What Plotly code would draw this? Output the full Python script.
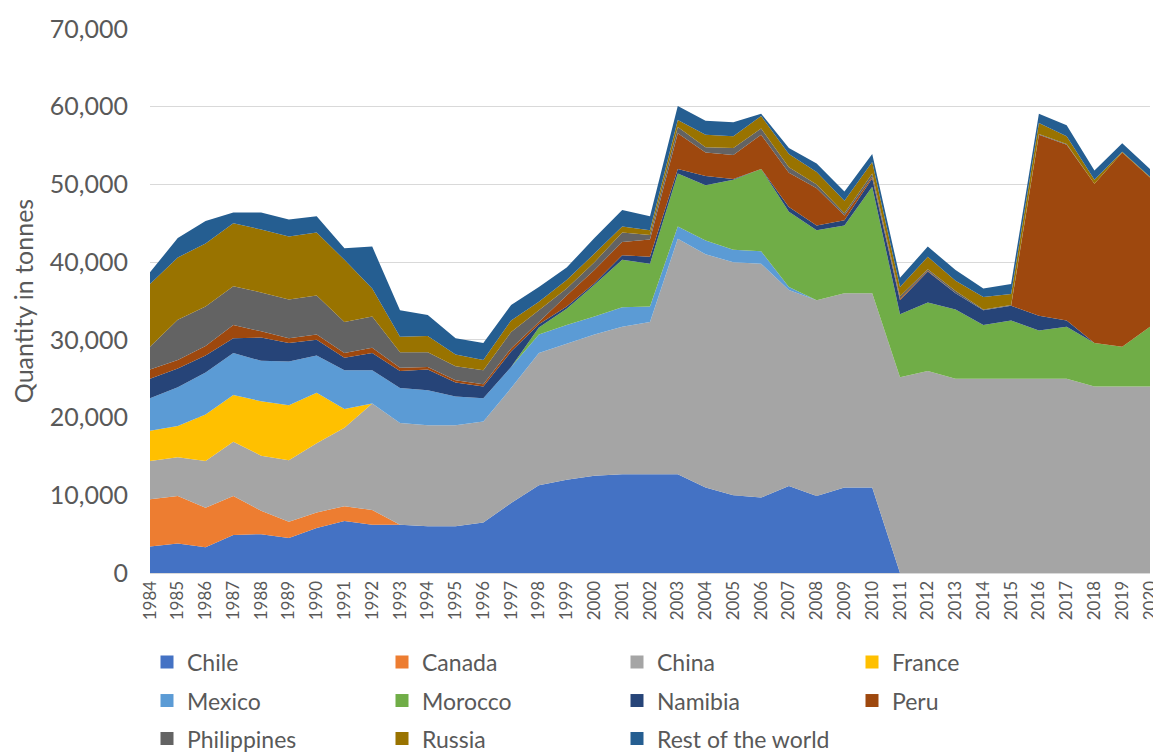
import plotly.graph_objects as go

years = list(range(1984, 2021))

chile = [3400, 3800, 3300, 4900, 5000, 4500, 5800, 6700, 6200, 6200, 6000, 6000, 6500,
         9000, 11300, 12000, 12500, 12700, 12700, 12700, 11000, 10000, 9700, 11200, 9900,
         11000, 11000, 0, 0, 0, 0, 0, 0, 0, 0, 0, 0]
canada = [6100, 6100, 5100, 5000, 3000, 2100, 2000, 1900, 1900] + [0] * 28
china = [4900, 5000, 6000, 7000, 7100, 7900, 8900, 10100, 13700, 13100, 13000, 13000, 13000,
         14800, 17000, 17500, 18200, 19000, 19600, 30300, 30000, 30000, 30100, 25200, 25200,
         25000, 25000, 25200, 26000, 25000, 25000, 25000, 25000, 25000, 24000, 24000, 24000]
france = [3900, 4000, 6000, 6000, 7000, 7100, 6500, 2400] + [0] * 29
mexico = [4200, 5000, 5400, 5400, 5200, 5600, 4800, 5000, 4300, 4500, 4500, 3700, 3000,
          2700, 2400, 2400, 2300, 2500, 2000, 1600, 1800, 1600, 1600, 400] + [0] * 13
morocco = [0] * 14 + [900, 2100, 4100, 6100, 5500, 6800, 7100, 9000, 10600, 9700, 9000,
                      8700, 13700, 8100, 8800, 8900, 6900, 7500, 6200, 6700, 5600, 5100, 7700]
namibia = [2500, 2400, 2200, 1900, 3000, 2400, 2000, 1600, 2200, 2200, 2700, 1800, 1500,
           2000, 400, 300, 200, 600, 900, 600, 1200, 100, 0, 600, 600, 700, 1100,
           1800, 4000, 2100, 1900, 1900, 1900, 800, 0, 0, 0]
peru = [1200, 1100, 1200, 1700, 800, 600, 700, 600, 700, 400, 300, 300, 300,
        400, 300, 1400, 1700, 1700, 2200, 4600, 3000, 3100, 4400, 4400, 4800, 600, 200,
        200, 100, 0, 0, 0, 23300, 22600, 20500, 25000, 19200]
philippines = [2900, 5200, 5100, 5000, 5000, 5000, 5000, 4000, 4000, 2000, 1900, 1800, 1800,
               2100, 1500, 900, 1000, 1200, 600, 800, 700, 900, 800, 700, 500, 300, 400,
               300, 200, 300, 100, 100, 100, 100, 0, 0, 0]
russia = [8100, 8000, 8100, 8100, 8100, 8100, 8100, 8000, 3600, 2000, 2100, 1500, 1300,
          1500, 1100, 1100, 1100, 800, 600, 900, 1600, 1500, 1600, 1700, 1600, 1600, 1500,
          1200, 1600, 1300, 1600, 1400, 1400, 1000, 500, 100, 100]
rest = [1500, 2500, 2900, 1400, 2200, 2200, 2100, 1500, 5400, 3400, 2700, 2100, 2200,
        2000, 1900, 1600, 2000, 2100, 1800, 1800, 1800, 1800, 300, 800, 1100, 1200, 1000,
        1200, 1300, 1400, 1100, 1300, 1200, 1400, 1200, 1100, 1000]

series = [
    ("Chile", chile, "#4472C4"),
    ("Canada", canada, "#ED7D31"),
    ("China", china, "#A5A5A5"),
    ("France", france, "#FFC000"),
    ("Mexico", mexico, "#5B9BD5"),
    ("Morocco", morocco, "#70AD47"),
    ("Namibia", namibia, "#264478"),
    ("Peru", peru, "#9E480E"),
    ("Philippines", philippines, "#636363"),
    ("Russia", russia, "#997300"),
    ("Rest of the world", rest, "#255E91"),
]

fig = go.Figure()
for name, vals, col in series:
    fig.add_trace(go.Scatter(
        x=years, y=vals, name=name, stackgroup="one", mode="none",
        fillcolor=col, showlegend=False,
    ))

# square legend keys, four per row like the Excel legend
legend_ids = ["legend", "legend2", "legend3"]
for i, (name, vals, col) in enumerate(series):
    fig.add_trace(go.Scatter(
        x=[None], y=[None], name=name, mode="markers",
        marker=dict(symbol="square", size=13, color=col),
        legend=legend_ids[i // 4], showlegend=True,
    ))

txt = "#595959"
leg_common = dict(
    orientation="h", x=-0.003, xanchor="left", yanchor="top",
    font=dict(size=23, color=txt), entrywidth=190, entrywidthmode="pixels",
    traceorder="normal", bgcolor="rgba(0,0,0,0)",
)
# page body has an 8px margin, so the figure is 8px smaller than the window
fig.update_layout(
    width=1153, height=744,
    margin=dict(l=142, r=11, t=21, b=179, autoexpand=False),
    plot_bgcolor="white", paper_bgcolor="white",
    font=dict(family="Lato, sans-serif", color=txt),
    showlegend=True,
    legend=dict(y=-0.124, **leg_common),
    legend2=dict(y=-0.195, **leg_common),
    legend3=dict(y=-0.265, **leg_common),
)
fig.update_xaxes(
    range=[1984, 2020], tickmode="linear", tick0=1984, dtick=1,
    tickangle=-90, tickfont=dict(size=17, color=txt),
    showgrid=False, showline=True, linecolor="#D9D9D9", linewidth=1,
    ticks="", zeroline=False,
)
fig.update_yaxes(
    range=[0, 70000], dtick=10000, tickformat=",",
    tickfont=dict(size=25, color=txt),
    showgrid=True, gridcolor="#D9D9D9", gridwidth=1,
    zeroline=False, showline=False, ticks="",
    ticklabelstandoff=21,
    title=dict(text="Quantity in tonnes", font=dict(size=25, color=txt), standoff=18),
)

fig.write_html("out.html")
